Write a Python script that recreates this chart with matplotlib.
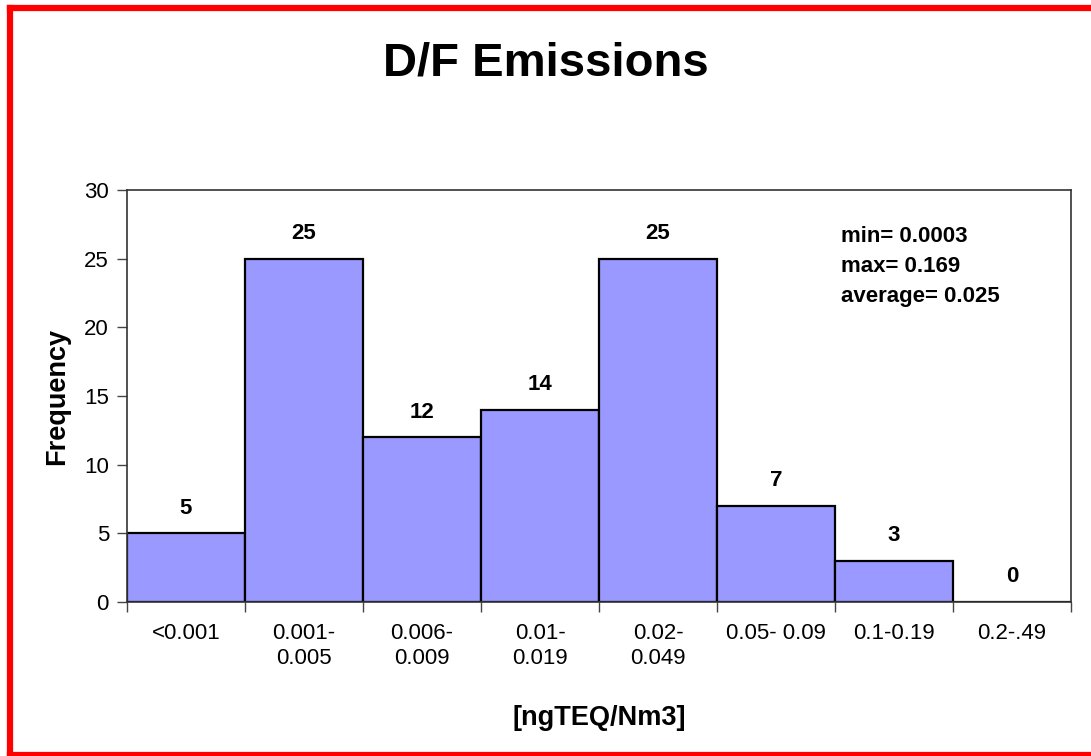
import matplotlib
matplotlib.use('Agg')
import matplotlib.pyplot as plt
from matplotlib.lines import Line2D
import numpy as np

plt.rcParams['font.family'] = ['Liberation Sans', 'DejaVu Sans']

categories = ['<0.001', '0.001-\n0.005', '0.006-\n0.009', '0.01-\n0.019',
              '0.02-\n0.049', '0.05- 0.09', '0.1-0.19', '0.2-.49']
counts = [5, 25, 12, 14, 25, 7, 3, 0]
stats = ['min= 0.0003', 'max= 0.169', 'average= 0.025']

W, H = 1091, 756
fig = plt.figure(figsize=(W / 100, H / 100), dpi=100)
ax = fig.add_axes([127 / W, 1 - 602 / H, (1071 - 127) / W, (602 - 190) / H])

x = np.arange(len(categories))
bars = ax.bar(x, counts, width=1.0, color='#9999FF', edgecolor='black', linewidth=1.6)
for b, v in zip(bars, counts):
    ax.annotate(str(v), (b.get_x() + b.get_width() / 2, v), xytext=(0, 18),
                textcoords='offset points', ha='center', va='center',
                fontsize=16, fontweight='bold')

ax.set_xlim(-0.5, len(categories) - 0.5)
ax.set_ylim(0, 30)
ax.set_yticks(range(0, 31, 5))
ax.set_xticks(np.arange(len(categories) + 1) - 0.5)
ax.set_xticklabels([])
ax.set_xticks(x, minor=True)
ax.set_xticklabels(categories, minor=True, fontsize=16, linespacing=1.25, va='top')
ax.tick_params(axis='x', which='major', length=7, width=1, color='#444444')
ax.tick_params(axis='x', which='minor', length=0, pad=15)
ax.tick_params(axis='y', length=7, width=1, color='#444444', labelsize=16, pad=6)

for s in ax.spines.values():
    s.set_linewidth(1.2)
    s.set_color('#333333')

ax.set_ylabel('Frequency', fontsize=19.5, fontweight='bold', labelpad=10)
ax.set_xlabel('[ngTEQ/Nm3]', fontsize=19.5, fontweight='bold', labelpad=26)

for i, s in enumerate(stats):
    ax.text(0.756, 0.888 - i * 0.0728, s, transform=ax.transAxes, ha='left',
            va='center', fontsize=16, fontweight='bold')

fig.text(0.5, 1 - 64 / H, 'D/F Emissions', ha='center', va='center',
         fontsize=34, fontweight='bold')

# red frame (right edge runs off the picture)
lw = 4.5
fig.add_artist(Line2D([10 / W, 10 / W], [0, 1 - 7.5 / H], color='red', lw=lw,
                      transform=fig.transFigure, solid_capstyle='projecting'))
fig.add_artist(Line2D([10 / W, 1], [1 - 7.5 / H, 1 - 7.5 / H], color='red', lw=lw,
                      transform=fig.transFigure, solid_capstyle='projecting'))
fig.add_artist(Line2D([10 / W, 1], [1 / H, 1 / H], color='red', lw=lw,
                      transform=fig.transFigure, solid_capstyle='projecting'))

fig.savefig('out.png', dpi=100)
